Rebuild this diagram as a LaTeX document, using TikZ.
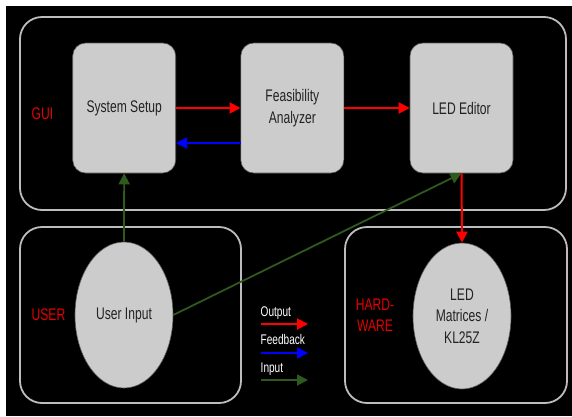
\documentclass[tikz,border=0pt]{standalone}
\usepackage{fontspec}
\setmainfont{Liberation Sans}[FakeStretch=0.72]
\usetikzlibrary{arrows.meta,shapes.geometric}
\definecolor{boxfill}{HTML}{CCCCCC}
\definecolor{frame}{HTML}{BDBDBD}
\definecolor{inred}{HTML}{FF0000}
\definecolor{labred}{HTML}{E60000}
\definecolor{fbblue}{HTML}{0000FF}
\definecolor{ingreen}{HTML}{2F5A1E}
\definecolor{txt}{HTML}{222222}
\tikzset{
  container/.style={draw=frame,line width=1.8pt,rounded corners=22pt},
  stepbox/.style={draw=gray!70!black,line width=0.6pt,fill=boxfill,rounded corners=13pt,
    minimum width=103pt,minimum height=130pt,inner sep=0pt,align=center,text=txt,
    font=\fontsize{16.8}{22}\selectfont},
  ellbox/.style={ellipse,draw=gray!70!black,line width=0.6pt,fill=boxfill,
    minimum width=98pt,minimum height=146pt,inner sep=0pt,align=center,text=txt,
    font=\fontsize{16.8}{21.5}\selectfont},
  grouplabel/.style={text=labred,align=center,font=\fontsize{16.8}{21}\selectfont,inner sep=0pt},
  legtext/.style={text=white,anchor=base west,inner sep=0pt,font=\fontsize{14}{16}\selectfont},
  tipA/.style={-{Triangle[length=11pt,width=11pt]}},
  outarrow/.style={tipA,draw=inred,line width=2pt},
  fbarrow/.style={tipA,draw=fbblue,line width=2pt},
  inarrow/.style={tipA,draw=ingreen,line width=1.8pt},
}
\begin{document}
\begin{tikzpicture}[x=1pt,y=-1pt]
\useasboundingbox (0,0) rectangle (572,416);
\fill[white] (0,0) rectangle (572,416);
\fill[black] (6,6) rectangle (572,416);
% containers
\draw[container] (20,17) rectangle (566,210);
\draw[container] (20,227) rectangle (241,403);
\draw[container] (345,227) rectangle (567,403);
% group labels
\node[grouplabel] (gui) at (42.5,114) {GUI};
\node[grouplabel] (user) at (48.5,315) {USER};
\node[grouplabel] (hw) at (375,315.5) {HARD-\\WARE};
% boxes
\node[stepbox] (ss) at (124.2,108) {System Setup};
\node[stepbox] (fa) at (292.3,108) {Feasibility\\Analyzer};
\node[stepbox] (led) at (461.5,108) {LED Editor};
\node[ellbox] (ui) at (124,315) {User Input};
\node[ellbox] (mat) at (462,316) {LED\\Matrices /\\KL25Z};
% connectors
\draw[outarrow] (ss.east) -- (fa.west);
\draw[fbarrow] ([yshift=-35pt]fa.west) -- ([yshift=-35pt]ss.east);
\draw[outarrow] (fa.east) -- (led.west);
\draw[outarrow] (led.south) -- (mat.north);
\draw[inarrow] (ui.north) -- (ss.south);
\draw[inarrow] (ui.east) -- (led.south);
% legend
\node[legtext] (lo) at (260.5,316) {Output};
\node[legtext] (lf) at (260.5,344) {Feedback};
\node[legtext] (li) at (260.5,372) {Input};
\coordinate (lo1) at (261,324); \coordinate (lo2) at (308,324);
\coordinate (lf1) at (261,353); \coordinate (lf2) at (308,353);
\coordinate (li1) at (261,380); \coordinate (li2) at (308,380);
\draw[outarrow] (lo1) -- (lo2);
\draw[fbarrow] (lf1) -- (lf2);
\draw[inarrow] (li1) -- (li2);
\end{tikzpicture}
\end{document}
